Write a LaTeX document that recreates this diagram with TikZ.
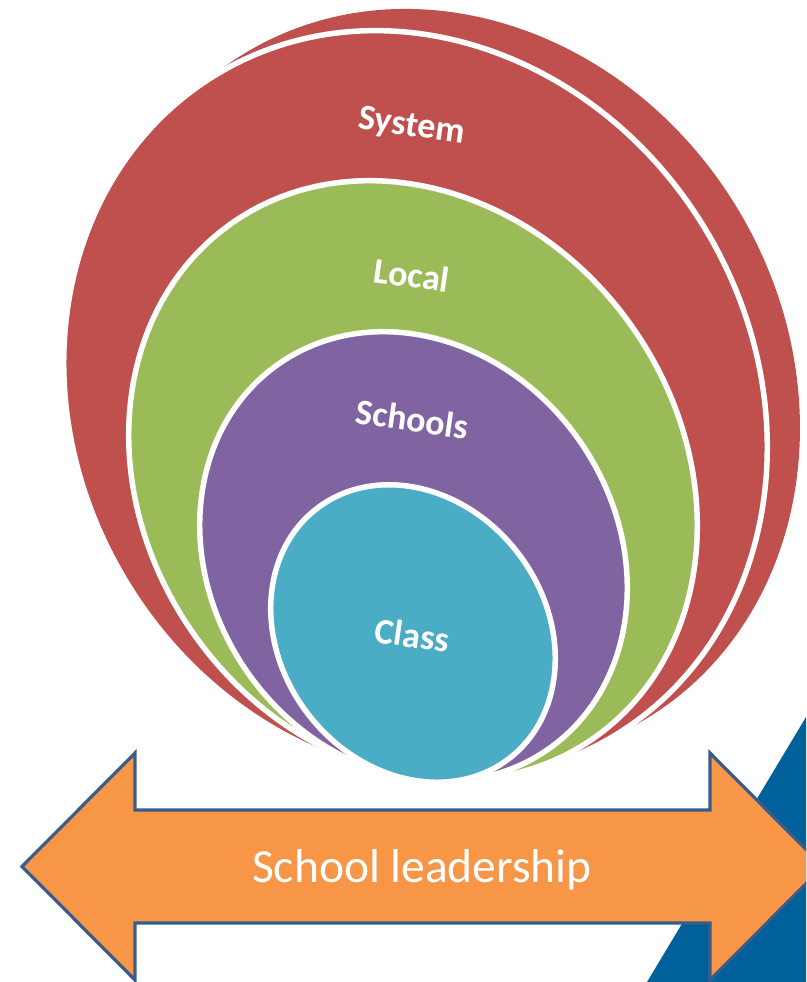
\documentclass[tikz,border=0pt]{standalone}
\usepackage{fontspec}
\setmainfont{Carlito}
\definecolor{sysred}{HTML}{C0504D}
\definecolor{locgreen}{HTML}{9BBB59}
\definecolor{schpurple}{HTML}{8064A2}
\definecolor{clscyan}{HTML}{4BACC6}
\definecolor{leadorange}{HTML}{F79646}
\definecolor{leadedge}{HTML}{385D8A}
\definecolor{cornerblue}{HTML}{00609A}
\begin{document}
\begin{tikzpicture}[x=1pt,y=-1pt,
  ring/.style={fill=#1, draw=white, line width=5.5pt},
  ringlabel/.style={text=white, inner sep=0pt, rotate=-8,
    font=\fontsize{36}{42}\selectfont\bfseries},
  arrowbody/.style={fill=leadorange, draw=leadedge, line width=3.2pt, line join=miter},
]
\useasboundingbox (0,0) rectangle (806,982);
\begin{scope}
\clip (0,0) rectangle (806,982);

% nested rings, outermost first
\fill[sysred, rotate around={-59.4:(445.5,386)}] (445.5,386) ellipse [x radius=388.6pt, y radius=341.7pt];
\path[ring=sysred, rotate around={-59.4:(415.5,405)}] (415.5,405) ellipse [x radius=385.9pt, y radius=339pt];
\path[ring=locgreen, rotate around={-54.65:(413,480.5)}] (413,480.5) ellipse [x radius=314.7pt, y radius=267.7pt];
\path[ring=schpurple, rotate around={-54.85:(413.5,556.5)}] (413.5,556.5) ellipse [x radius=235.1pt, y radius=202.4pt];
\path[ring=clscyan, rotate around={-52.4:(413,633.5)}] (413,633.5) ellipse [x radius=157.7pt, y radius=132.3pt];

\node[ringlabel] (system) at (411.5,127) {System};
\node[ringlabel] (local) at (412,275) {Local};
\node[ringlabel] (schools) at (412.5,419) {Schools};
\node[ringlabel] (class) at (412.5,635) {Class};

% corner triangle
\fill[cornerblue] (647,982) -- (806,717) -- (806,982) -- cycle;

% double-headed arrow
\coordinate (ltip) at (22,866.5);
\coordinate (lht) at (135,753);
\coordinate (lst) at (135,810);
\coordinate (rst) at (710,810);
\coordinate (rht) at (710,753);
\coordinate (rtip) at (823,866.5);
\coordinate (rhb) at (710,980);
\coordinate (rsb) at (710,923);
\coordinate (lsb) at (135,923);
\coordinate (lhb) at (135,980);
\draw[arrowbody] (ltip) -- (lht) -- (lst) -- (rst) -- (rht) -- (rtip)
  -- (rhb) -- (rsb) -- (lsb) -- (lhb) -- cycle;
\node[text=white, inner sep=0pt, anchor=base, font=\fontsize{47.5}{56}\selectfont]
  (lead) at (422,882) {School leadership};
\end{scope}
\end{tikzpicture}
\end{document}
